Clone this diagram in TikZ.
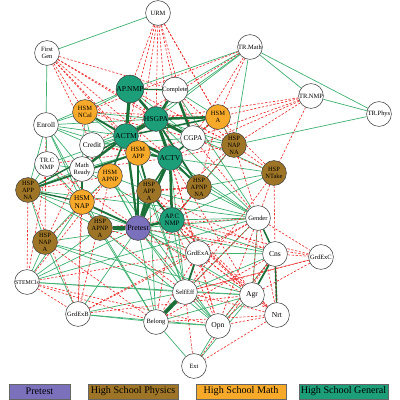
\documentclass[tikz,border=0pt]{standalone}
\usepackage{fontspec}
\setmainfont{Liberation Serif}
\usetikzlibrary{positioning}
\definecolor{prepurple}{RGB}{122,112,188}
\definecolor{physbrown}{RGB}{158,117,38}
\definecolor{mathorange}{RGB}{247,170,42}
\definecolor{gengreen}{RGB}{28,158,120}
\definecolor{poslight}{RGB}{62,176,112}
\definecolor{posdark}{RGB}{26,112,56}
\definecolor{negred}{RGB}{236,40,40}
\pgfdeclarelayer{bg}
\pgfsetlayers{bg,main}

\begin{document}
\begin{tikzpicture}[x=0.025cm, y=-0.025cm,
  vnode/.style={circle, draw=black!75, line width=0.4pt, fill=white, minimum size=0.62cm, inner sep=0pt, align=center, font=\fontsize{4.6}{5}\selectfont},
  pre/.style={vnode, fill=prepurple, font=\fontsize{5.6}{6}\selectfont},
  phys/.style={vnode, fill=physbrown},
  math/.style={vnode, fill=mathorange},
  gen/.style={vnode, fill=gengreen, font=\fontsize{5.4}{5.8}\selectfont},
  posedge/.style={poslight, line width=0.5pt},
  posthick/.style={posdark},
  negedge/.style={negred, line width=0.45pt, dash pattern=on 1.6pt off 1.2pt},
  legbox/.style={draw=black!60, line width=0.5pt, minimum height=0.37cm, inner sep=0pt, font=\fontsize{7.2}{8}\selectfont}]
  \useasboundingbox (0,0) rectangle (400,400);

  % white nodes
  \node[vnode] (urm) at (158,13) {URM};
  \node[vnode] (fgen) at (47,53) {First\\Gen};
  \node[vnode] (trmath) at (250,47) {TR.Math};
  \node[vnode] (trnmp) at (311,96) {TR.NMP};
  \node[vnode] (trphys) at (379,114) {TR.Phys};
  \node[vnode] (compl) at (175,90) {Complete};
  \node[vnode, font=\fontsize{5.2}{5.6}\selectfont] (enroll) at (46,125) {Enroll};
  \node[vnode, font=\fontsize{5.2}{5.6}\selectfont] (credit) at (92,145) {Credit};
  \node[vnode, font=\fontsize{5.2}{5.6}\selectfont] (cgpa) at (193,138) {CGPA};
  \node[vnode] (trcnmp) at (47,164) {TR.C\\NMP};
  \node[vnode] (mready) at (82,169) {Math\\Ready};
  \node[vnode] (gender) at (258,218) {Gender};
  \node[vnode] (grdexa) at (198,253) {GrdExA};
  \node[vnode, font=\fontsize{5.4}{5.8}\selectfont] (cns) at (275,254) {Cns};
  \node[vnode] (grdexc) at (321,257) {GrdExC};
  \node[vnode, font=\fontsize{4.2}{5}\selectfont] (stemcls) at (27,282) {STEMCls};
  \node[vnode] (selfeff) at (185,292) {SelfEff};
  \node[vnode, font=\fontsize{5.4}{5.8}\selectfont] (agr) at (252,295) {Agr};
  \node[vnode, font=\fontsize{5.4}{5.8}\selectfont] (nrt) at (277,315) {Nrt};
  \node[vnode] (grdexb) at (78,314) {GrdExB};
  \node[vnode] (belong) at (156,322) {Belong};
  \node[vnode, font=\fontsize{5.4}{5.8}\selectfont] (opn) at (218,326) {Opn};
  \node[vnode] (ext) at (194,366) {Ext};

  % high school general
  \node[gen] (apnmp) at (130,89) {AP.NMP};
  \node[gen] (hsgpa) at (156,119) {HSGPA};
  \node[gen] (actm) at (126,136) {ACTM};
  \node[gen] (actv) at (170,158) {ACTV};
  \node[gen, font=\fontsize{4.8}{5.2}\selectfont] (apcnmp) at (172,220) {AP.C\\NMP};

  % high school math
  \node[math] (hsmncal) at (85,112) {HSM\\NCal};
  \node[math] (hsma) at (218,117) {HSM\\A};
  \node[math] (hsmapp) at (138,153) {HSM\\APP};
  \node[math] (hsmapnp) at (110,176) {HSM\\APNP};
  \node[math, font=\fontsize{5.2}{5.6}\selectfont] (hsmnap) at (82,202) {HSM\\NAP};

  % high school physics
  \node[phys] (hspnapna) at (234,145) {HSP\\NAP\\NA};
  \node[phys] (hspntake) at (274,173) {HSP\\NTake};
  \node[phys] (hspappna) at (28,190) {HSP\\APP\\NA};
  \node[phys] (hspappa) at (149,191) {HSP\\APP\\A};
  \node[phys] (hspapnpna) at (199,187) {HSP\\APNP\\NA};
  \node[phys] (hspapnpa) at (100,228) {HSP\\APNP\\A};
  \node[phys] (hspnapa) at (45,242) {HSP\\NAP\\A};

  % pretest
  \node[pre] (pretest) at (138,228) {Pretest};

  \begin{pgfonlayer}{bg}
    % positive partial correlations
    \foreach \a/\b in {urm/fgen, fgen/enroll, enroll/trcnmp, trmath/trnmp, trmath/trphys, trnmp/trphys,
      trphys/hspnapna, trmath/hspnapna, trmath/apnmp, trmath/compl, trmath/hsgpa, trmath/actm,
      apnmp/compl, apnmp/hsmncal, apnmp/enroll, compl/hsma, compl/gender, hsgpa/hspnapna, hsgpa/gender,
      hsma/cgpa, hsma/actv, hsma/hspnapna, enroll/hsmncal, enroll/credit, enroll/actm, enroll/mready,
      enroll/hsmapp, enroll/hsgpa, enroll/hsmnap, enroll/hspappna, credit/actm, credit/mready,
      credit/hsgpa, credit/cgpa, trcnmp/hspappna, trcnmp/mready, trcnmp/hsmnap, trcnmp/actm,
      mready/hsmapnp, mready/hspappna, mready/hsmapp, hsmapnp/hsmnap, hsmapnp/pretest, hsmapnp/hspappa,
      hspappna/hspapnpa, hspappna/hspnapa, hspappna/pretest, hsmnap/hspapnpa, hsmnap/hspnapa,
      hspnapa/stemcls, hspnapa/grdexb, hspnapa/pretest, hspnapa/selfeff, stemcls/pretest, stemcls/hsmnap,
      stemcls/hspapnpa, stemcls/selfeff, stemcls/gender, grdexb/selfeff, grdexb/pretest, grdexb/belong,
      belong/opn, belong/pretest, belong/hspapnpa, belong/agr, belong/ext, selfeff/agr, selfeff/opn,
      selfeff/cns, selfeff/gender, selfeff/pretest, selfeff/actm, opn/agr, opn/ext, opn/cns, opn/pretest,
      ext/agr, agr/gender, grdexa/cns, grdexa/pretest, grdexa/apcnmp, gender/pretest, gender/actv,
      gender/hspappa, gender/apcnmp, gender/hspapnpna, gender/hsmncal, hspntake/hsgpa, hspntake/actv,
      hspntake/apcnmp, hspntake/hspapnpna, hspapnpna/apcnmp, hspapnpna/hspnapna, apcnmp/selfeff,
      apcnmp/cns, pretest/agr, pretest/cns, actv/cgpa, actv/selfeff, cgpa/hspnapna, cgpa/apnmp,
      hspappa/selfeff, hspappa/belong, hspnapna/apcnmp, hsmncal/credit, hsmncal/hsgpa, hsmncal/hsmapp,
      hsmncal/mready, hspnapa/agr, hspappna/gender, enroll/hspapnpa, mready/apcnmp, credit/pretest,
      hsmapnp/opn, hspapnpa/opn, hsmnap/belong, stemcls/agr, grdexb/opn}
      \draw[posedge] (\a) -- (\b);
    % negative partial correlations
    \foreach \a/\b in {urm/apnmp, urm/compl, urm/hsgpa, urm/actm, urm/cgpa, urm/hsma, urm/hspnapna,
      urm/hsmapp, urm/actv, fgen/hsmncal, fgen/actm, fgen/credit, fgen/hsgpa, fgen/compl, fgen/hsmapp,
      fgen/actv, fgen/cgpa, trmath/hsmncal, trmath/credit, trmath/hsma, trmath/cgpa, trnmp/hspnapna,
      trnmp/hspntake, trnmp/cgpa, trnmp/hsma, trnmp/actv, trnmp/hsgpa,
      enroll/hspnapa, trcnmp/hspapnpa, trcnmp/pretest, trcnmp/stemcls, hspappna/stemcls,
      hspappna/grdexb, mready/grdexb, hsmnap/grdexb, hsmapnp/grdexb, hsmapnp/stemcls, credit/hspnapa,
      stemcls/grdexa, stemcls/belong, stemcls/opn, grdexb/grdexa, grdexb/gender, hspapnpa/gender,
      hspapnpa/selfeff, hspapnpa/grdexa, hspnapa/belong, pretest/nrt, pretest/grdexc, hspappa/grdexa,
      hspappa/cns, hspappa/nrt, apcnmp/grdexc, apcnmp/agr, apcnmp/nrt, apcnmp/opn, apcnmp/belong,
      actv/grdexa, actv/agr, actv/opn, cgpa/gender, cgpa/hspntake, hspnapna/gender, hspnapna/hspntake,
      hspnapna/actv, hspnapna/hspapnpna, hsma/hspntake, hsma/hspapnpna, hspntake/gender, hspntake/cns,
      hspntake/selfeff, gender/grdexa, gender/grdexc, gender/agr, gender/nrt, gender/belong, gender/opn,
      grdexa/agr, grdexa/nrt, grdexa/opn, grdexa/belong, cns/grdexc, cns/opn, cns/belong, grdexc/agr,
      grdexc/selfeff, agr/nrt, nrt/opn, nrt/selfeff, nrt/ext, ext/cns, ext/selfeff, belong/nrt,
      hsmncal/hsma, hsmncal/cgpa, apnmp/hspnapna, compl/hspnapna, hsmapp/cgpa, mready/actv,
      hspappna/hsmapnp, trcnmp/hsmapp, hsmnap/hspappa, hspapnpa/apcnmp, hspnapa/hsmapnp, stemcls/grdexb,
      grdexb/agr, hspappa/agr, selfeff/grdexc, pretest/hspnapna}
      \draw[negedge] (\a) -- (\b);
    \foreach \a/\b/\w in {cns/nrt/1.3, credit/hsmapp/1.1, hspappa/hspapnpna/1.1, hsma/cgpa/1.1,
      hsmncal/actm/0.9, hsgpa/actv/0.9, hspapnpna/apcnmp/0.9}
      \draw[negedge, line width=\w pt] (\a) -- (\b);
    % strong positive ties
    \foreach \a/\b/\w in {actm/hsgpa/2.6, actm/apnmp/2.2, actm/hsmapp/2.6, actm/actv/2.0, actm/pretest/1.6,
      actm/mready/1.8, hsgpa/actv/2.2, hsgpa/apnmp/1.8, hsgpa/compl/1.8, hsgpa/cgpa/2.0, hsgpa/hsma/1.8,
      actv/pretest/2.2, actv/hsmapp/1.6, actv/apcnmp/1.8, pretest/apcnmp/1.8, pretest/hspapnpa/2.4,
      pretest/hspappa/2.2, pretest/hsmnap/1.3, hsmapp/hspappa/1.3, hsmapp/pretest/1.8, mready/hsmnap/1.3,
      hspappna/hsmapp/1.3, hspappna/hsmnap/1.0, selfeff/belong/2.8, selfeff/grdexa/1.3, cns/agr/1.3,
      cns/nrt/0.9, gender/cns/1.1, hsmncal/actm/1.3, hspappa/apcnmp/1.3, hsmapnp/actm/1.1,
      hsgpa/hspapnpna/1.3, actv/hspapnpna/1.3, compl/cgpa/1.8, hsma/actm/1.1, apnmp/compl/0.9,
      actv/cgpa/1.3, hspappa/actv/1.1, hspappna/actm/1.0}
      \draw[posthick, line width=\w pt] (\a) -- (\b);
  \end{pgfonlayer}

  % legend
  \node[legbox, fill=prepurple, minimum width=1.52cm] (legpre) at (39.5,391.5) {Pretest};
  \node[legbox, fill=physbrown, minimum width=2.25cm] (legphys) at (133,391.5) {High School Physics};
  \node[legbox, fill=mathorange, minimum width=2.25cm] (legmath) at (241,391.5) {High School Math};
  \node[legbox, fill=gengreen, minimum width=2.22cm] (leggen) at (343.5,391.5) {High School General};
\end{tikzpicture}
\end{document}
